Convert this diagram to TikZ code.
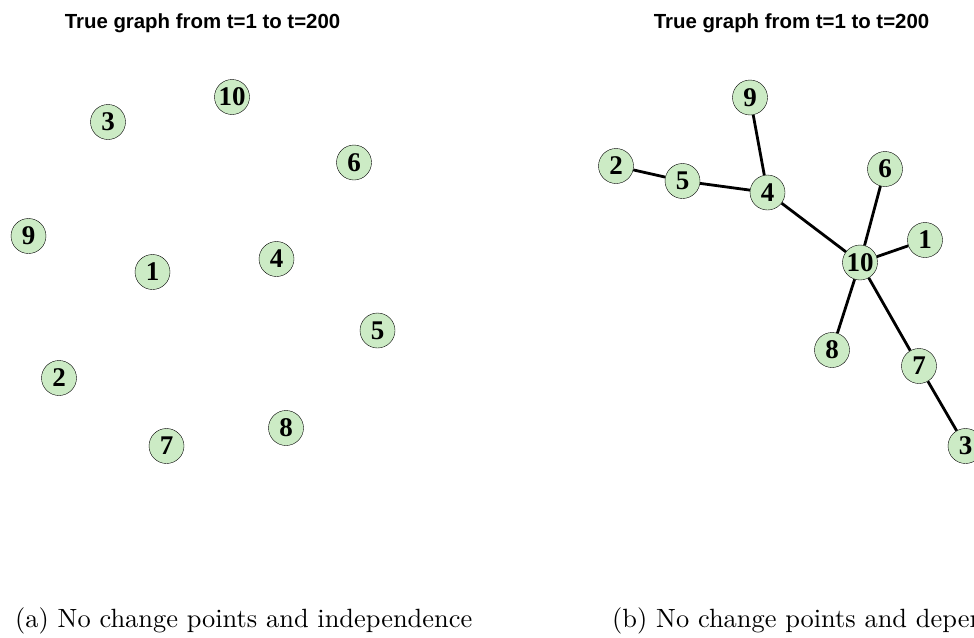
\documentclass[tikz,border=0pt]{standalone}
\usepackage{fontspec}
\newfontfamily\titlefont{Liberation Sans}
\newfontfamily\numfont{Liberation Serif}
\usetikzlibrary{positioning}
\definecolor{vgreen}{RGB}{204,235,197}

\begin{document}
\begin{tikzpicture}[x=1pt, y=-1pt,
  vertex/.style={circle, draw, thin, fill=vgreen, minimum size=35pt, inner sep=0pt, font=\numfont\bfseries\fontsize{27}{27}\selectfont},
  edge/.style={line width=2.8pt},
  title/.style={font=\titlefont\bfseries\fontsize{20.4}{24}\selectfont, anchor=base, inner sep=0pt},
  caption/.style={font=\normalsize, anchor=base west, inner sep=0pt}]
\useasboundingbox (0,0) rectangle (974,637);
% panel (a): no edges
\node[title] (ta) at (202.5,28) {True graph from t=1 to t=200};
\node[vertex] (a10) at (232,97) {10}; \node[vertex] (a3) at (108,122) {3};
\node[vertex] (a6) at (354,162.5) {6};  \node[vertex] (a9) at (28.5,236) {9};
\node[vertex] (a1) at (152.5,272) {1}; \node[vertex] (a4) at (276.5,259) {4};
\node[vertex] (a5) at (377.5,330.5) {5};  \node[vertex] (a2) at (59,378) {2};
\node[vertex] (a7) at (166.5,446) {7};  \node[vertex] (a8) at (286,428) {8};
% panel (b): star around 10
\node[title] (tb) at (791.5,28) {True graph from t=1 to t=200};
\node[vertex] (b9) at (750,97.5) {9};  \node[vertex] (b2) at (616,166) {2};
\node[vertex] (b5) at (682.5,181) {5}; \node[vertex] (b4) at (767.5,192.5) {4};
\node[vertex] (b6) at (885,169) {6};  \node[vertex] (b1) at (925,240) {1};
\node[vertex] (b10) at (860,262.5) {10}; \node[vertex] (b8) at (832,350) {8};
\node[vertex] (b7) at (919,366) {7};  \node[vertex] (b3) at (965.5,446) {3};
\draw[edge] (b2) -- (b5); \draw[edge] (b5) -- (b4); \draw[edge] (b9) -- (b4);
\draw[edge] (b4) -- (b10); \draw[edge] (b6) -- (b10); \draw[edge] (b1) -- (b10);
\draw[edge] (b10) -- (b8); \draw[edge] (b10) -- (b7); \draw[edge] (b7) -- (b3);
% captions
\node[caption] (ca) at (15,627) {\scalebox{2.64}{(a) No change points and independence}};
\node[caption] (cb) at (612,627) {\scalebox{2.64}{(b) No change points and dependence}};
\end{tikzpicture}
\end{document}
